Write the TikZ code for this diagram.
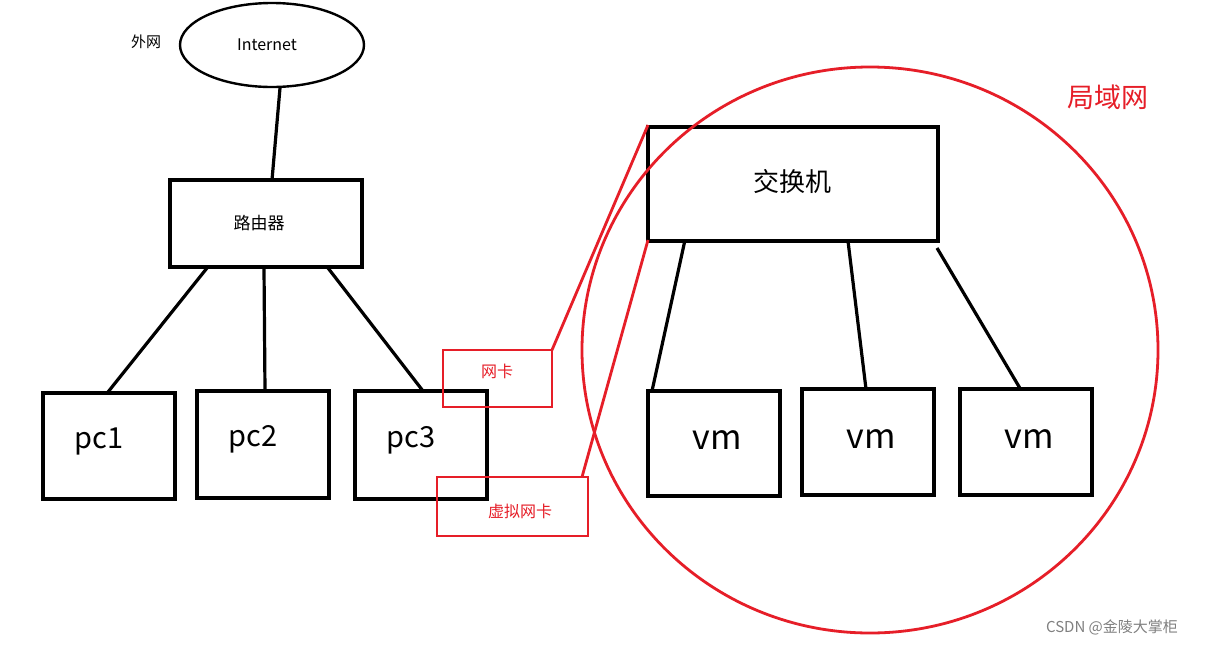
\documentclass[tikz,border=0pt]{standalone}
\usepackage{fontspec}
\setmainfont{Noto Sans CJK SC}
\definecolor{rd}{RGB}{230,30,40}
\begin{document}
\begin{tikzpicture}[x=1pt,y=-1pt,
  bx/.style={draw,line width=3.2pt,inner sep=0pt},
  rbx/.style={draw=rd,line width=2.8pt},
  ln/.style={line width=3.2pt},
  rln/.style={draw=rd,line width=2.8pt}]
\useasboundingbox (0,0) rectangle (1213,646);
\fill[white] (0,0) rectangle (1213,646);
\draw[line width=2.4pt] (272,45) ellipse [x radius=92, y radius=42];
\node (inet) at (267,45) {\fontsize{16}{18}\selectfont Internet};
\coordinate (inb) at (280,88);
\node at (146,42) {\fontsize{15}{17}\selectfont 外网};
\draw[bx] (170,180) rectangle (362,267);
\node (rt) at (259,223) {\fontsize{17}{19}\selectfont 路由器};
\coordinate (rtt) at (272,180);
\draw[ln] (rtt) -- (inb);
\foreach \n/\a/\b/\c/\d in {pc1/43/393/175/499,pc2/197/391/329/498,pc3/355/391/487/499}{
  \draw[bx] (\a,\b) rectangle (\c,\d);
  \node at ({(\a+\c)/2-10},{(\b+\d)/2-5}) {\fontsize{29}{32}\selectfont \n};
}
\draw[ln] (207,268) -- (108,392);
\draw[ln] (264,268) -- (265,391);
\draw[ln] (328,268) -- (423,391);
\draw[bx] (648,127) rectangle (938,241);
\node (sw) at (792,182) {\fontsize{26}{30}\selectfont 交换机};
\foreach \a/\b/\c/\d in {648/391/780/496,802/389/934/495,960/389/1092/495}{
  \draw[bx] (\a,\b) rectangle (\c,\d);
  \node at ({(\a+\c)/2+3},{(\b+\d)/2-3}) {\fontsize{34}{38}\selectfont vm};
}
\draw[ln] (685,240) -- (652,391);
\draw[ln] (848,241) -- (866,389);
\draw[ln] (937,248) -- (1021,390);
\draw[rln] (870,350) ellipse [x radius=288, y radius=283];
\node[text=rd] at (1108,97) {\fontsize{27}{30}\selectfont 局域网};
\draw[rbx] (443,350) rectangle (552,407);
\node[text=rd] at (497,371) {\fontsize{16}{18}\selectfont 网卡};
\draw[rbx] (437,477) rectangle (588,536);
\node[text=rd] at (520,511) {\fontsize{16}{18}\selectfont 虚拟网卡};
\draw[rln] (552,350) -- (648,125);
\draw[rln] (582,477) -- (648,240);
\node[text=gray] at (1112,627) {\fontsize{15}{17}\selectfont CSDN @金陵大掌柜};
\end{tikzpicture}
\end{document}
